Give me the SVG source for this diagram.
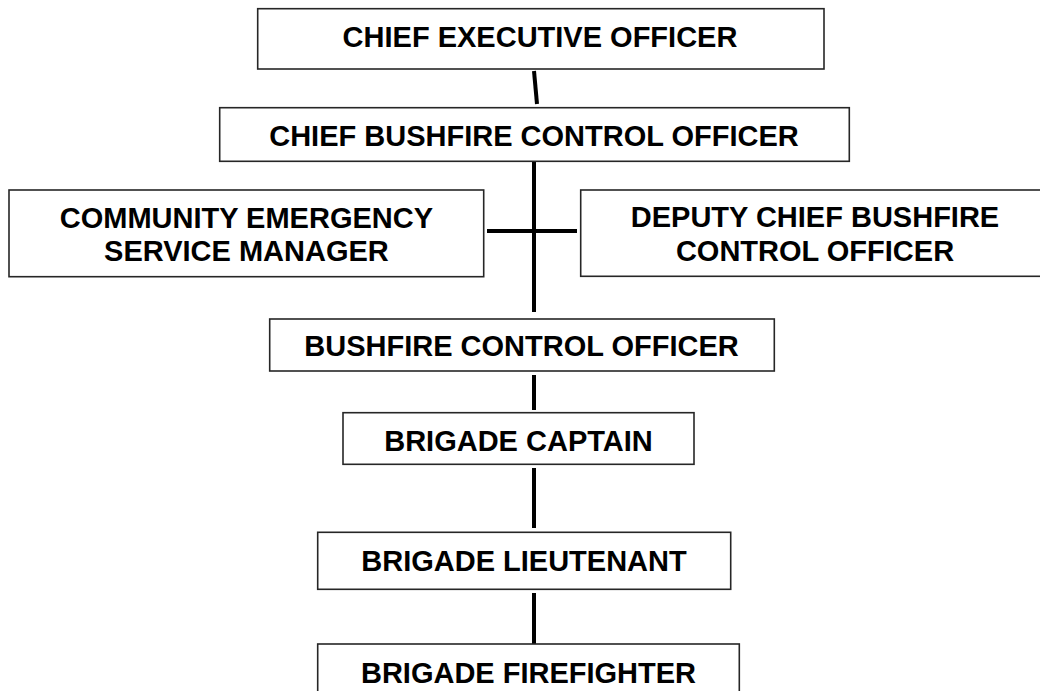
<svg xmlns="http://www.w3.org/2000/svg" width="1040" height="691" viewBox="0 0 1040 691">
<style>
.box{fill:#fff;stroke:#262626;stroke-width:1.6}
.t{font-family:"Liberation Sans",Arial,sans-serif;font-weight:bold;font-size:29px;fill:#000;text-anchor:middle}
.c{stroke:#000;stroke-width:4;fill:none}
</style>
<rect width="1040" height="691" fill="#fff"/>
<g id="connectors">
<line class="c" x1="534" y1="71" x2="537" y2="104"/>
<line class="c" x1="534" y1="161" x2="534" y2="312"/>
<line class="c" x1="487" y1="231" x2="577" y2="231"/>
<line class="c" x1="534" y1="375" x2="534" y2="410"/>
<line class="c" x1="534" y1="468" x2="534" y2="528"/>
<line class="c" x1="534" y1="593" x2="534" y2="644"/>
</g>
<g id="ceo">
<rect class="box" x="257.7" y="8.7" width="566.3" height="60.3"/>
<text class="t" x="540" y="46.7">CHIEF EXECUTIVE OFFICER</text>
</g>
<g id="cbco">
<rect class="box" x="219.7" y="107.7" width="629.6" height="53.6"/>
<text class="t" x="534" y="145.7">CHIEF BUSHFIRE CONTROL OFFICER</text>
</g>
<g id="cesm">
<rect class="box" x="9" y="190" width="474.7" height="86.7"/>
<text class="t" x="246.4" y="227.7">COMMUNITY EMERGENCY</text>
<text class="t" x="246.4" y="261">SERVICE MANAGER</text>
</g>
<g id="dcbco">
<rect class="box" x="580.7" y="190" width="470" height="86.3"/>
<text class="t" x="815" y="226.7">DEPUTY CHIEF BUSHFIRE</text>
<text class="t" x="815" y="261">CONTROL OFFICER</text>
</g>
<g id="bco">
<rect class="box" x="269.7" y="319" width="504.6" height="52"/>
<text class="t" x="521.5" y="356">BUSHFIRE CONTROL OFFICER</text>
</g>
<g id="captain">
<rect class="box" x="343" y="412.7" width="351" height="51.6"/>
<text class="t" x="518.5" y="450.7">BRIGADE CAPTAIN</text>
</g>
<g id="lieutenant">
<rect class="box" x="317.7" y="532.3" width="413" height="57"/>
<text class="t" x="524" y="571">BRIGADE LIEUTENANT</text>
</g>
<g id="firefighter">
<rect class="box" x="317.7" y="644" width="421.6" height="60"/>
<text class="t" x="528.5" y="683">BRIGADE FIREFIGHTER</text>
</g>
</svg>
